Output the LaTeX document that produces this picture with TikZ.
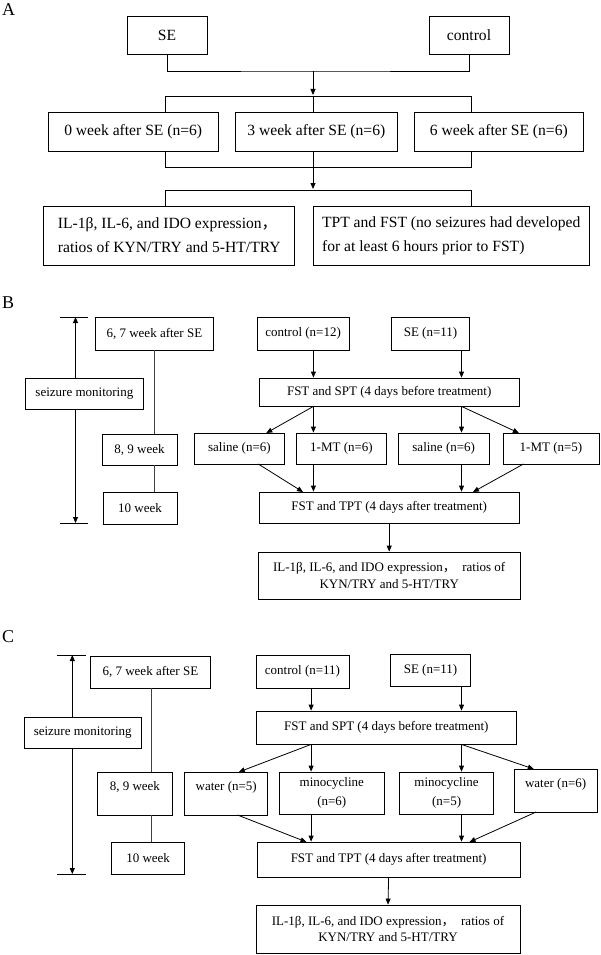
\documentclass[tikz,border=0pt]{standalone}
\usepackage{fontspec}
\setmainfont{Liberation Serif}
\newfontfamily\cjk{Noto Sans CJK SC}
\usetikzlibrary{arrows.meta}
\begin{document}
\begin{tikzpicture}[x=1pt,y=-1pt,
  box/.style={draw, line width=0.8pt, inner sep=0pt, align=center},
  fa/.style={font=\fontsize{15.6}{24}\selectfont},
  fb/.style={font=\fontsize{13}{16.5}\selectfont},
  ln/.style={line width=0.8pt},
  thinln/.style={line width=0.6pt, black!75},
  ar/.style={line width=0.8pt, -{Triangle[length=6pt,width=5pt]}},
  lbl/.style={font=\fontsize{18}{18}\selectfont, anchor=west, inner sep=0pt}]

\useasboundingbox (0,0) rectangle (600,955);

%%%%%%%%%%%%%%%% Panel A
\node[lbl] (LA) at (2,10) {A};
\node[box,fa,minimum width=80pt,minimum height=38pt] (aSE) at (167,35) {SE};
\node[box,fa,minimum width=80pt,minimum height=38pt] (aCtl) at (469,35) {control};
\coordinate (aJ1) at (313,71);
\coordinate (aJ2) at (313,95);
\draw[ln] (aSE.south) |- (aJ1) -| (aCtl.south);
\draw[ar] (aJ1) -- (aJ2);

\node[box,fa,minimum width=170pt,minimum height=39pt] (aW0) at (133.2,131.5) {0 week after SE (n=6)};
\node[box,fa,minimum width=162pt,minimum height=39pt] (aW3) at (316.3,131.5) {3 week after SE (n=6)};
\node[box,fa,minimum width=169pt,minimum height=39pt] (aW6) at (498.8,131.5) {6 week after SE (n=6)};

\coordinate (aL1) at (165.5,96);
\coordinate (aM1) at (313,96);
\coordinate (aR1) at (471.5,96);
\draw[ln] (aL1) -- (aR1);
\draw[ln] (aL1) -- (aL1 |- aW0.north);
\draw[ln] (aM1) -- (aM1 |- aW3.north);
\draw[ln] (aR1) -- (aR1 |- aW6.north);

\coordinate (aL2) at (165.5,167);
\coordinate (aJ3) at (313,167);
\coordinate (aR2) at (471.5,167);
\coordinate (aJ4) at (313,189);
\draw[ln] (aL2 |- aW0.south) -- (aL2) -- (aR2) -- (aR2 |- aW6.south);
\draw[ln] (aJ3 |- aW3.south) -- (aJ3);
\draw[ar] (aJ3) -- (aJ4);

\node[box,fa,align=left,minimum width=251pt,minimum height=59pt] (aRes1) at (169.3,235.5)
  {IL-1β, IL-6, and IDO expression{\cjk ，}\\ratios of KYN/TRY and 5-HT/TRY};
\node[box,fa,align=left,minimum width=275.5pt,minimum height=59pt] (aRes2) at (451.2,235.5)
  {TPT and FST (no seizures had developed\\for at least 6 hours prior to FST)};

\coordinate (aL3) at (165.5,190);
\coordinate (aR3) at (471.5,190);
\draw[ln] (aL3 |- aRes1.north) -- (aL3) -- (aR3) -- (aR3 |- aRes2.north);

%%%%%%%%%%%%%%%% Panel B
\node[lbl] (LB) at (2,303) {B};
\coordinate (bT) at (75.5,317);
\coordinate (bB) at (75.5,523);
\coordinate (bT1) at (60,317);
\coordinate (bT2) at (88,317);
\coordinate (bB1) at (60,523);
\coordinate (bB2) at (88,523);
\draw[ln] (bT1) -- (bT2);
\draw[ln] (bB1) -- (bB2);
\node[box,fb,minimum width=118pt,minimum height=31pt] (bSz) at (84.4,393.5) {seizure monitoring};
\draw[ar] (bT |- bSz.north) -- (bT);
\draw[ar] (bB |- bSz.south) -- (bB);

\node[box,fb,minimum width=118pt,minimum height=33pt] (b67) at (154.4,333.5) {6, 7 week after SE};
\node[box,fb,minimum width=75pt,minimum height=31pt] (b89) at (139.5,449.5) {8, 9 week};
\node[box,fb,minimum width=74pt,minimum height=32pt] (b10) at (140,508) {10 week};
\coordinate (bV) at (154,400);
\draw[thinln] (bV |- b67.south) -- (bV |- b89.north);
\draw[thinln] (bV |- b89.south) -- (bV |- b10.north);

\node[box,fb,minimum width=92pt,minimum height=33pt] (bCtl) at (303.1,333.5) {control (n=12)};
\node[box,fb,minimum width=78pt,minimum height=33pt] (bSE) at (430.5,333.5) {SE (n=11)};
\node[box,fb,minimum width=259.5pt,minimum height=28pt] (bPre) at (389.2,392) {FST and SPT (4 days before treatment)};
\coordinate (bx1) at (313.4,400);
\coordinate (bx2) at (461.5,400);
\draw[ar] (bx1 |- bCtl.south) -- (bx1 |- bPre.north);
\draw[ar] (bx2 |- bSE.south) -- (bx2 |- bPre.north);

\node[box,fb,minimum width=90.7pt,minimum height=31pt] (bS1) at (239.4,448.5) {saline (n=6)};
\node[box,fb,minimum width=90.7pt,minimum height=31pt] (bM1) at (341.5,448.5) {1-MT (n=6)};
\node[box,fb,minimum width=90.7pt,minimum height=31pt] (bS2) at (443.7,448.5) {saline (n=6)};
\node[box,fb,minimum width=96pt,minimum height=31pt] (bM2) at (551,448.5) {1-MT (n=5)};

\coordinate (bd1) at (266.3,433);
\coordinate (bd2) at (518.9,433);
\draw[ar] (bx1 |- bPre.south) -- (bx1 |- bM1.north);
\draw[ar] (bx2 |- bPre.south) -- (bx2 |- bS2.north);
\draw[ar] (bx1 |- bPre.south) -- (bd1);
\draw[ar] (bx2 |- bPre.south) -- (bd2);

\node[box,fb,minimum width=259.5pt,minimum height=31pt] (bPost) at (389.2,507.5) {FST and TPT (4 days after treatment)};
\coordinate (bu1) at (258.3,464);
\coordinate (bu2) at (303,492);
\coordinate (bu3) at (523.5,464);
\coordinate (bu4) at (473,492);
\draw[ar] (bu1) -- (bu2);
\draw[ar] (bu3) -- (bu4);
\draw[ar] (bx1 |- bM1.south) -- (bx1 |- bPost.north);
\draw[ar] (bx2 |- bS2.south) -- (bx2 |- bPost.north);

\node[box,fb,minimum width=261.7pt,minimum height=47pt] (bRes) at (389.2,575.5)
  {IL-1β, IL-6, and IDO expression{\cjk ，}\ \ ratios of\\KYN/TRY and 5-HT/TRY};
\draw[ar] (bPost.south) -- (bRes.north);

%%%%%%%%%%%%%%%% Panel C
\node[lbl] (LC) at (2,637) {C};
\coordinate (cT) at (72.3,655);
\coordinate (cB) at (72.3,874);
\coordinate (cT1) at (57.4,655);
\coordinate (cT2) at (86.1,655);
\coordinate (cB1) at (57.4,874);
\coordinate (cB2) at (86.1,874);
\draw[ln] (cT1) -- (cT2);
\draw[ln] (cB1) -- (cB2);
\node[box,fb,minimum width=117pt,minimum height=31pt] (cSz) at (82.7,732.5) {seizure monitoring};
\draw[ar] (cT |- cSz.north) -- (cT);
\draw[ar] (cB |- cSz.south) -- (cB);

\node[box,fb,minimum width=119.4pt,minimum height=32pt] (c67) at (150.4,672) {6, 7 week after SE};
\node[box,fb,minimum width=74.6pt,minimum height=43pt,text depth=16pt] (c89) at (134.9,793.5) {8, 9 week};
\node[box,fb,minimum width=73.4pt,minimum height=32pt] (c10) at (148.1,858) {10 week};
\coordinate (cV) at (151.5,750);
\draw[thinln] (cV |- c67.south) -- (cV |- c89.north);
\draw[thinln] (cV |- c89.south) -- (cV |- c10.north);

\node[box,fb,minimum width=93pt,minimum height=33pt] (cCtl) at (302.5,671.5) {control (n=11)};
\node[box,fb,minimum width=80.4pt,minimum height=32pt] (cSE) at (430.5,670) {SE (n=11)};
\node[box,fb,minimum width=260.6pt,minimum height=33pt] (cPre) at (386.3,727.5) {FST and SPT (4 days before treatment)};
\coordinate (cx1) at (311.1,750);
\coordinate (cx2) at (461.5,750);
\draw[ar] (cx1 |- cCtl.south) -- (cx1 |- cPre.north);
\draw[ar] (cx2 |- cSE.south) -- (cx2 |- cPre.north);

\node[box,fb,minimum width=82.7pt,minimum height=43pt,text depth=16pt] (cW1) at (226.2,793.5) {water (n=5)};
\node[box,fb,minimum width=105.6pt,minimum height=42pt,font=\fontsize{13}{19}\selectfont] (cM1) at (331.8,793) {minocycline\\(n=6)};
\node[box,fb,minimum width=94.1pt,minimum height=42pt,font=\fontsize{13}{19}\selectfont] (cM2) at (446.6,793) {minocycline\\(n=5)};
\node[box,fb,minimum width=82.7pt,minimum height=43pt,text depth=16pt] (cW2) at (555.6,790.5) {water (n=6)};

\coordinate (cd1) at (238.8,772);
\coordinate (cd2) at (533.8,769);
\draw[ar] (cx1 |- cPre.south) -- (cx1 |- cM1.north);
\draw[ar] (cx2 |- cPre.south) -- (cx2 |- cM2.north);
\draw[ar] (cx1 |- cPre.south) -- (cd1);
\draw[ar] (cx2 |- cPre.south) -- (cd2);

\node[box,fb,minimum width=262.8pt,minimum height=35pt] (cPost) at (388.6,859.5) {FST and TPT (4 days after treatment)};
\coordinate (cu1) at (237.6,815);
\coordinate (cu2) at (306.5,842);
\coordinate (cu3) at (536.1,812);
\coordinate (cu4) at (469.5,842);
\draw[ar] (cu1) -- (cu2);
\draw[ar] (cu3) -- (cu4);
\draw[ar] (cx1 |- cM1.south) -- (cx1 |- cPost.north);
\draw[ar] (cx2 |- cM2.south) -- (cx2 |- cPost.north);

\node[box,fb,minimum width=264pt,minimum height=48pt] (cRes) at (388,929)
  {IL-1β, IL-6, and IDO expression{\cjk ，}\ \ ratios of\\KYN/TRY and 5-HT/TRY};
\draw[ar] (cPost.south) -- (cRes.north);

\end{tikzpicture}
\end{document}
